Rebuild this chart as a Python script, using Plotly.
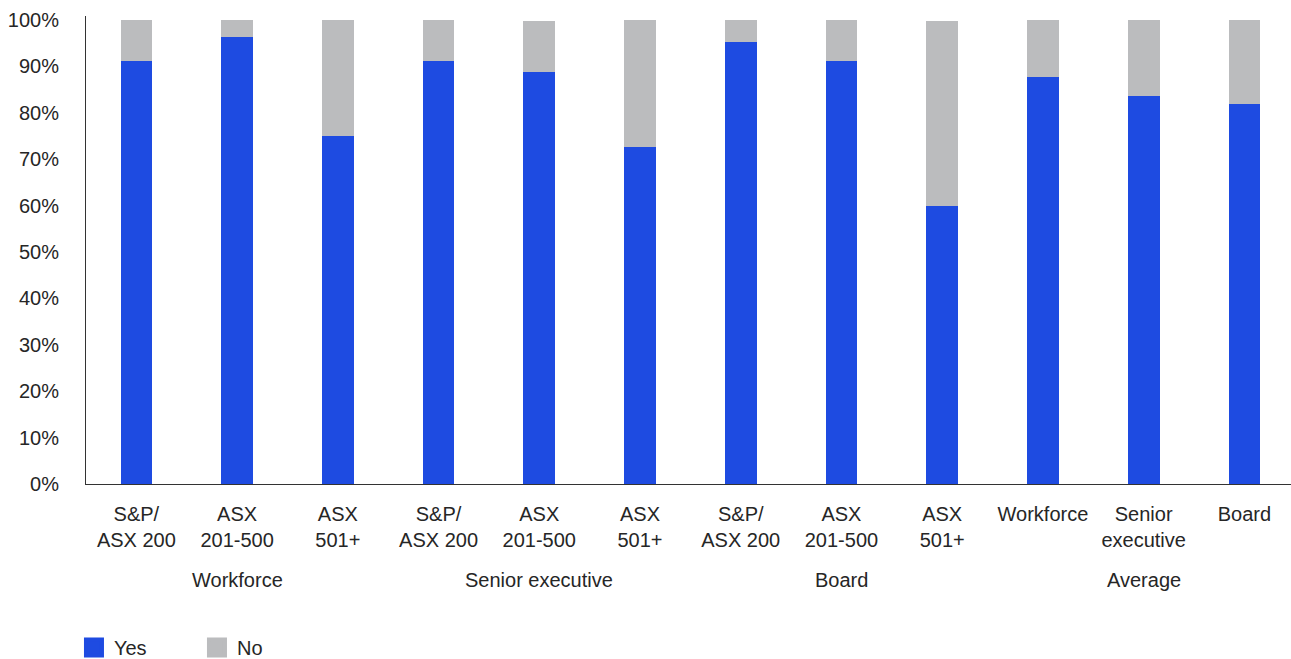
import plotly.graph_objects as go

groups = ["Workforce", "Senior executive", "Board", "Average"]
tick_labels = [
    "S&P/<br>ASX 200", "ASX<br>201-500", "ASX<br>501+",
    "S&P/<br>ASX 200", "ASX<br>201-500", "ASX<br>501+",
    "S&P/<br>ASX 200", "ASX<br>201-500", "ASX<br>501+",
    "Workforce", "Senior<br>executive", "Board",
]
y_ticks = [0, 10, 20, 30, 40, 50, 60, 70, 80, 90, 100]
y_tick_labels = ["0%", "10%", "20%", "30%", "40%", "50%", "60%", "70%", "80%", "90%", "100%"]
yes_vals = [91.2, 96.3, 75.0, 91.2, 88.8, 72.6, 95.3, 91.2, 59.9, 87.7, 83.6, 81.9]
no_vals = [8.8, 3.7, 25.0, 8.8, 11.0, 27.4, 4.7, 8.8, 39.9, 12.3, 16.4, 18.1]

BLUE = "#1E4BE1"
GREY = "#BBBCBE"
TXT = "#262626"
FONT = "Liberation Sans, Arial, sans-serif"

x = list(range(len(tick_labels)))

fig = go.Figure()
fig.add_trace(go.Bar(x=x, y=yes_vals, marker=dict(color=BLUE, line=dict(width=0)),
                     name="Yes", showlegend=False))
fig.add_trace(go.Bar(x=x, y=no_vals, marker=dict(color=GREY, line=dict(width=0)),
                     name="No", showlegend=False))
# legend entries with large square swatches
fig.add_trace(go.Scatter(x=[None], y=[None], mode="markers", name="Yes",
                         marker=dict(symbol="square", size=16, color=BLUE,
                                     line=dict(color=BLUE, width=4))))
fig.add_trace(go.Scatter(x=[None], y=[None], mode="markers", name="No",
                         marker=dict(symbol="square", size=16, color=GREY,
                                     line=dict(color=GREY, width=4))))

for i, g in enumerate(groups):
    fig.add_annotation(x=3 * i + 1, y=0, xref="x", yref="paper", text=g,
                       showarrow=False, yshift=-96, yanchor="middle",
                       font=dict(size=20, color=TXT, family=FONT))

fig.update_layout(
    barmode="stack",
    bargap=0.685,
    width=1291, height=659,
    margin=dict(l=86, r=0, t=16, b=175, autoexpand=False),
    paper_bgcolor="white", plot_bgcolor="white",
    font=dict(family=FONT, size=20, color=TXT),
    legend=dict(orientation="h", xref="container", yref="container",
                x=0.0573, xanchor="left", y=0.0175, yanchor="middle",
                traceorder="normal",
                font=dict(size=20, color=TXT), entrywidth=78, entrywidthmode="pixels",
                itemclick=False, itemdoubleclick=False),
    xaxis=dict(range=[-0.5, 11.463], tickmode="array", tickvals=x, ticktext=tick_labels,
               showline=True, linecolor="#333333", linewidth=1, showgrid=False,
               zeroline=False, ticks="", ticklabelstandoff=12, tickangle=0,
               automargin=False, tickfont=dict(size=20, color=TXT)),
    yaxis=dict(range=[0, 100.86], tickmode="array", tickvals=y_ticks, ticktext=y_tick_labels,
               showline=True, linecolor="#333333", linewidth=1,
               showgrid=False, zeroline=False, ticks="", ticklabelstandoff=22,
               automargin=False, tickfont=dict(size=20, color=TXT)),
)

fig.write_html("out.html")
